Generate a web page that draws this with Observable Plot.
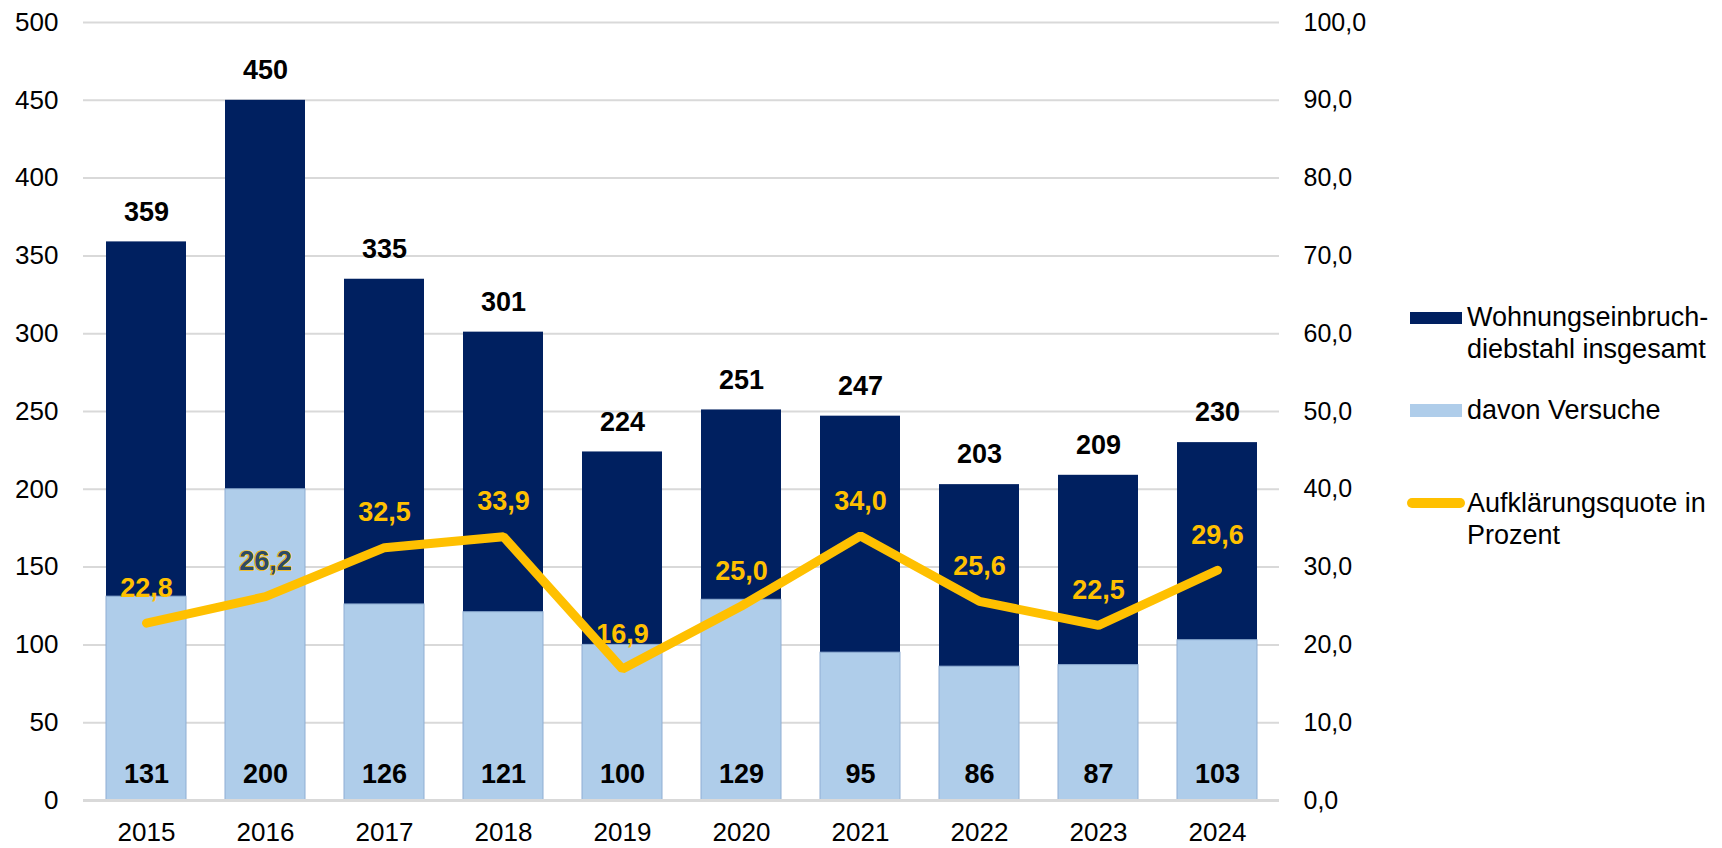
<!DOCTYPE html>
<html><head><meta charset="utf-8">
<script src="https://cdn.jsdelivr.net/npm/d3@7"></script>
<script src="https://cdn.jsdelivr.net/npm/@observablehq/plot@0.6"></script>
<style>
body{margin:0;background:#fff;font-family:"Liberation Sans",Arial,sans-serif;}
#wrap{position:relative;width:1722px;height:848px;}
.lg{position:absolute;font-size:27px;color:#000;line-height:32px;white-space:nowrap;}
.sw{position:absolute;}
</style></head><body>
<div id="wrap"></div>
<script>
const years = ["2015","2016","2017","2018","2019","2020","2021","2022","2023","2024"];
const totals = [359,450,335,301,224,251,247,203,209,230];
const attempts = [131,200,126,121,100,129,95,86,87,103];
const rates = [22.8,26.2,32.5,33.9,16.9,25.0,34.0,25.6,22.5,29.6];
const leftTicks = [0,50,100,150,200,250,300,350,400,450,500];
const rightTicks = [0,10,20,30,40,50,60,70,80,90,100];
const legendLabels = ["Wohnungseinbruch-<br>diebstahl insgesamt","davon Versuche","Aufklärungsquote in<br>Prozent"];

const K = 5; // right axis percent -> left axis units
const data = years.map((y,i)=>({year:y,total:totals[i],att:attempts[i],rate:rates[i],rateY:rates[i]*K}));
const fmt = v => v.toFixed(1).replace(".",",");
const font = '"Liberation Sans",Arial,sans-serif';

const chart = Plot.plot({
  width:1722, height:848,
  marginTop:22, marginBottom:48, marginLeft:83, marginRight:443,
  style:{fontFamily:font,fontSize:"26px",color:"#000",background:"#fff"},
  x:{domain:years,paddingInner:0.33,paddingOuter:0.165,label:null},
  y:{domain:[0,500],label:null},
  marks:[
    Plot.ruleY(leftTicks.filter(d=>d>0),{stroke:"#d9d9d9",strokeWidth:2}),
    Plot.axisY(leftTicks,{anchor:"left",tickSize:0,tickPadding:25,fontSize:26,label:null}),
    Plot.axisY(rightTicks.map(d=>d*K),{anchor:"right",tickSize:0,tickPadding:24,fontSize:25,label:null,tickFormat:d=>fmt(d/K)}),
    Plot.axisX({tickSize:0,tickPadding:22,fontSize:26,label:null}),
    Plot.barY(data,{x:"year",y:"total",fill:"#002060"}),
    Plot.barY(data,{x:"year",y:"att",fill:"#afcdea",stroke:"#8faed3",strokeWidth:1}),
    Plot.ruleY([0],{stroke:"#d9d9d9",strokeWidth:3}),
    Plot.line(data,{x:"year",y:"rateY",stroke:"#ffc000",strokeWidth:9,strokeLinejoin:"miter",strokeLinecap:"round"}),
    Plot.text(data,{x:"year",y:"total",text:d=>String(d.total),dy:-30,fontWeight:"bold",fontSize:27,fill:"#000"}),
    Plot.text(data,{x:"year",y:0,text:d=>String(d.att),dy:-26,fontWeight:"bold",fontSize:27,fill:"#000"}),
    Plot.text(data.filter(d=>d.year!=="2016"),{x:"year",y:"rateY",text:d=>fmt(d.rate),dy:-35,fontWeight:"bold",fontSize:27,fill:"#ffc000"}),
    Plot.text(data.filter(d=>d.year==="2016"),{x:"year",y:"rateY",text:d=>fmt(d.rate),dy:-35,fontSize:27,fontWeight:"bold",fill:"#2d4a66",stroke:"#ffc000",strokeWidth:1.6,paintOrder:"stroke"})
  ]
});
const wrap = document.getElementById("wrap");
wrap.appendChild(chart);
chart.style.position="absolute";chart.style.left="0";chart.style.top="0";

function add(html){const d=document.createElement("div");d.innerHTML=html;wrap.appendChild(d.firstChild);}
add(`<div class="sw" style="left:1410px;top:312px;width:52px;height:12px;background:#002060"></div>`);
add(`<div class="lg" style="left:1467px;top:301px">${legendLabels[0]}</div>`);
add(`<div class="sw" style="left:1410px;top:404px;width:52px;height:13px;background:#afcdea"></div>`);
add(`<div class="lg" style="left:1467px;top:394px">${legendLabels[1]}</div>`);
add(`<div class="sw" style="left:1407px;top:498px;width:58px;height:10px;border-radius:5px;background:#ffc000"></div>`);
add(`<div class="lg" style="left:1467px;top:487px">${legendLabels[2]}</div>`);
</script>
</body></html>
